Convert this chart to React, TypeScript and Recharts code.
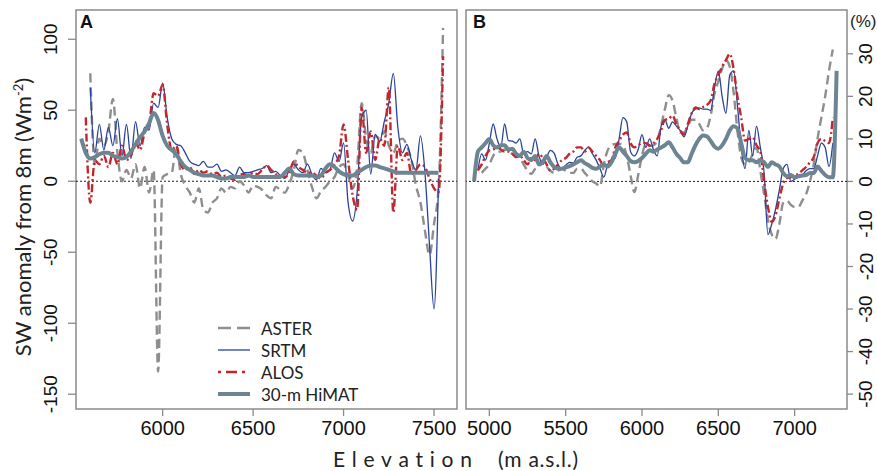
import { LineChart, Line, XAxis, YAxis, ReferenceLine, ReferenceArea, Legend } from 'recharts';

// panel A: absolute anomaly (W m-2) against elevation
const elevA = [
  5550, 5575, 5600, 5625, 5650, 5675, 5700, 5725, 5750, 5775, 5800, 5825, 5850, 5875, 5900, 5925, 5950, 5975,
  6000, 6025, 6050, 6075, 6100, 6125, 6150, 6175, 6200, 6225, 6250, 6275, 6300, 6325, 6350, 6375, 6400, 6425,
  6450, 6475, 6500, 6525, 6550, 6575, 6600, 6625, 6650, 6675, 6700, 6725, 6750, 6775, 6800, 6825, 6850, 6875,
  6900, 6925, 6950, 6975, 7000, 7025, 7050, 7075, 7100, 7125, 7150, 7175, 7200, 7225, 7250, 7275, 7300, 7325,
  7350, 7375, 7400, 7425, 7450, 7475, 7500, 7525, 7550,
];
const asterA = [
  null, null, 76, 12, 30, 25, 35, 58, 20, 0, 8, 2, 12, -5, 10, -8, 8, -134,
  3, 5, 6, 25, 5, -3, -8, -15, -5, -20, -22, -15, -12, -5, -8, -4, -5, 0,
  -3, -8, -3, -4, -6, -10, -12, -4, -6, -8, -2, 8, 22, 20, 8, -4, -12, -7,
  -4, 0, 3, 10, 12, 4, -5, 10, 55, 30, 20, 32, 30, 35, 25, 20, 28, 30,
  25, 15, -3, -15, -35, -52, -30, -5, 108,
];
const srtmA = [
  null, null, 66, 20, 40, 22, 38, 25, 44, 18, 40, 16, 42, 25, 38, 36, 55, 52,
  69, 45, 30, 26, 25, 20, 14, 12, 11, 14, 10, 10, 12, 7, 8, 6, 4, 10,
  6, 6, 7, 8, 9, 11, 6, 7, 4, 2, 8, 12, 8, 6, 12, 5, 1, 9,
  6, 8, 20, 14, 27, -15, -28, -8, 45, 50, 5, 33, 28, 42, 55, 76, 38, 20,
  26, 15, 8, 32, 6, -45, -90, 2, null,
];
const alosA = [
  null, 45, -15, 15, 12, 18, 10, 20, 12, 25, 15, 18, 28, 22, 34, 40, 62, 60,
  68, 40, 22, 25, 12, 8, 10, 5, 8, 6, 7, 5, 6, 3, 4, 2, 1, 5,
  5, 4, 6, 5, 8, 11, 8, 5, 4, 3, 6, 14, 10, 8, 6, 6, 4, 2,
  6, 8, 12, 18, 40, 15, -10, -20, 52, 20, 35, 15, 30, 25, 66, -22, 25, 15,
  20, 5, 8, 12, 10, 2, -5, -8, 88,
];
const himatA = [
  30, 20, 16, 17, 19, 20, 20, 18, 17, 16, 17, 21, 26, 31, 35, 41, 48, 43,
  32, 25, 22, 19, 14, 10, 8, 6, 5, 4, 4, 4, 3, 2, 2, 3, 3, 3,
  3, 4, 3, 3, 3, 3, 3, 3, 3, 6, 9, 5, 4, 4, 4, 4, 3, 4,
  9, 12, 10, 7, 5, 4, 4, 6, 8, 10, 11, 11, 10, 9, 8, 7, 6, 6,
  6, 6, 6, 6, 6, 6, 6, 6, null,
];

// panel B: relative anomaly (%) against elevation
const elevB = [
  4900, 4925, 4950, 4975, 5000, 5025, 5050, 5075, 5100, 5125, 5150, 5175, 5200, 5225, 5250, 5275, 5300, 5325,
  5350, 5375, 5400, 5425, 5450, 5475, 5500, 5525, 5550, 5575, 5600, 5625, 5650, 5675, 5700, 5725, 5750, 5775,
  5800, 5825, 5850, 5875, 5900, 5925, 5950, 5975, 6000, 6025, 6050, 6075, 6100, 6125, 6150, 6175, 6200, 6225,
  6250, 6275, 6300, 6325, 6350, 6375, 6400, 6425, 6450, 6475, 6500, 6525, 6550, 6575, 6600, 6625, 6650, 6675,
  6700, 6725, 6750, 6775, 6800, 6825, 6850, 6875, 6900, 6925, 6950, 6975, 7000, 7025, 7050, 7075, 7100, 7125,
  7150, 7175, 7200, 7225, 7250, 7275,
];
const asterB = [
  null, null, 2, 3, 4, 6, 7, 7, 7.5, 7, 6.5, 6, 5.5, 4, 2.5, 1.8, 3, 4,
  5, 3.5, 2.5, 2, 2.5, 3, 2.5, 2, 2, 3, 3, 2, 1, 0, -0.5, -1.2, 4, 7.3,
  8.5, 8.8, 8.8, 8.5, 6, 1.5, -2.5, 1.5, 6, 8.8, 8.3, 8.5, 9.6, 13, 17, 20.3, 19, 15,
  11.5, 11.5, 13, 14.5, 14.5, 13.5, 12, 12.5, 15.5, 20.6, 23.5, 26.5, 28.5, 27, 21, 12, 5.7, 4,
  4.5, 6.5, 8, 2.5, -3, -9, -12.5, -13.5, -10, -5, -4.5, -5.5, -6, -6, -4.5, -3, 0, 4,
  10, 15, 20, 26, 31, null,
];
const srtmB = [
  null, 2.6, 6.5, 5, 9, 13.5, 10, 8, 13.5, 9.6, 9.5, 9, 10, 6.5, 7, 6.5, 10, 6,
  4, 5.7, 7.3, 6.6, 4, 3, 3.8, 4.5, 4.3, 5.7, 6, 7.3, 8, 6.5, 5, 3, 1, 4,
  5, 5.5, 10, 15, 14, 7, 6, 7.5, 11, 8, 10, 7.5, 6, 13, 14.5, 12.5, 14, 13,
  12, 10.5, 13, 16, 17, 17.3, 17, 17, 16.7, 22, 26, 20, 16, 25, 26, 18, 8, 3,
  12, 6, 13, 8, 2, -12.5, -10, -6.5, -2, 3, 4, 0, 0.5, 1, 1.5, 2.5, 3, 3,
  6, 9, 8, 3.5, 9, null,
];
const alosB = [
  null, 2.6, 4, 6, 7.3, 7.5, 8, 7.5, 7, 7, 6.5, 5.7, 6, 5, 4, 5.5, 5, 6.5,
  5.5, 4, 2.5, 3, 4, 5, 5.5, 6.5, 7, 8, 8, 7, 8, 7, 6, 5, 3.5, 4.5,
  5, 8, 9.5, 11, 11.5, 9, 8, 8.5, 9, 9, 8.5, 9, 10, 12, 14.5, 14.7, 15.5, 13.5,
  12, 11, 13.5, 16, 17.4, 17, 17.5, 18, 19, 23, 25, 27, 28.5, 30, 26.5, 20, 15, 9.6,
  10, 10.4, 8.5, 7, 0, -6, -9.5, -8, -4, -0.5, 0.8, 1, 1.4, 1.8, 2.6, 3.4, 4.5, 5.7,
  9, 10, 9.5, 9, 15, null,
];
const himatB = [
  0, 7, 8, 9, 10, 8.5, 8, 8.5, 8.5, 7.5, 7.7, 6.5, 6, 7, 5.5, 5, 6, 4,
  4.5, 6, 4.5, 3.4, 3, 3, 3.3, 3.6, 4, 4.5, 5, 4.3, 3.8, 3.2, 3, 3.5, 4, 3.5,
  4.5, 6.5, 8, 7, 6, 4.8, 4.5, 4.8, 5.5, 6.5, 7.3, 7, 7.5, 8, 8.5, 9.2, 8, 6.5,
  5.5, 4.5, 4.5, 6.5, 8.5, 10, 10.8, 10.6, 9.5, 8.2, 7.7, 8.5, 10, 12, 13, 12.5, 9, 5.5,
  5, 5, 4.5, 5, 4.5, 3.4, 4.5, 4, 3.5, 2, 1.2, 1.5, 1, 1.2, 1.4, 1.5, 2, 2,
  3.5, 2.5, 1.5, 1, 1, 26,
];

const ticksAx = [6000, 6500, 7000, 7500];
const ticksAy = [-150, -100, -50, 0, 50, 100];
const ticksBx = [5000, 5500, 6000, 6500, 7000];
const ticksBy = [-50, -40, -30, -20, -10, 0, 10, 20, 30];

const SERIES = [
  { key: 'aster', name: 'ASTER', color: '#8e8e8e', width: 2.4, dash: '9 5', legendDash: '13 6' },
  { key: 'srtm', name: 'SRTM', color: '#2a429b', width: 1.3, dash: undefined, legendDash: undefined },
  { key: 'alos', name: 'ALOS', color: '#c1272d', width: 2.4, dash: '8 3 2 3', legendDash: '3 5 11 5' },
  { key: 'himat', name: '30-m HiMAT', color: '#6d8593', width: 4, dash: undefined, legendDash: undefined },
];

const rowsA = elevA.map((e, i) => ({ elev: e, aster: asterA[i], srtm: srtmA[i], alos: alosA[i], himat: himatA[i] }));
const rowsB = elevB.map((e, i) => ({ elev: e, aster: asterB[i], srtm: srtmB[i], alos: alosB[i], himat: himatB[i] }));

const AX_X: [number, number] = [5521, 7627];
const AX_Y: [number, number] = [-160.4, 120.6];
const BX_X: [number, number] = [4847, 7343];
const BX_Y: [number, number] = [-53.5, 40.3];

const BOX = '#8a8a8a';
const TICK_FONT = '"Liberation Sans", Arial, sans-serif';
const TITLE_FONT = 'Lato, "Liberation Sans", sans-serif';
const NO_LIGA = { fontVariantLigatures: 'none' as const };

const BottomTick = ({ x, payload }: any) => (
  <text x={x} y={435} textAnchor="middle" fontSize={20} fontFamily={TICK_FONT} fill="#111">
    {payload.value}
  </text>
);

const LeftTick = ({ y, payload }: any) => (
  <text x={51} y={y} transform={`rotate(-90 51 ${y})`} textAnchor="middle" dominantBaseline="central"
    fontSize={19} fontFamily={TICK_FONT} fill="#111">
    {payload.value}
  </text>
);

// chart B is placed at page x 458, so 866 on the page is 408 here
const RightTick = ({ y, payload }: any) => (
  <text x={408} y={y} transform={`rotate(-90 408 ${y})`} textAnchor="middle" dominantBaseline="central"
    fontSize={19} fontFamily={TICK_FONT} fill="#111">
    {payload.value}
  </text>
);

const LegendBox = () => (
  <svg width={170} height={90}>
    {SERIES.map((s, i) => (
      <g key={s.key}>
        <line x1={6} x2={38} y1={12 + 22 * i} y2={12 + 22 * i} stroke={s.color}
          strokeWidth={s.width} strokeDasharray={s.legendDash} />
        <text x={49} y={12 + 22 * i} dominantBaseline="central" fontSize={17}
          fontFamily={TITLE_FONT} fill="#222" style={NO_LIGA}>{s.name}</text>
      </g>
    ))}
  </svg>
);

function seriesLines(yAxisId: string | number) {
  return SERIES.map((s) => (
    <Line key={s.key} yAxisId={yAxisId} dataKey={s.key} name={s.name} type="monotone"
      stroke={s.color} strokeWidth={s.width} strokeDasharray={s.dash}
      dot={false} activeDot={false} connectNulls={false} isAnimationActive={false} />
  ));
}

export default function App() {
  return (
    <div style={{ position: 'absolute', left: 0, top: 0, width: 877, height: 471, background: '#fff' }}>
      <div style={{ position: 'absolute', left: 0, top: 0 }}>
        <LineChart width={458} height={471} data={rowsA} margin={{ top: 10, right: 1, bottom: 0, left: 0 }}>
          <XAxis dataKey="elev" type="number" domain={AX_X} ticks={ticksAx} allowDataOverflow
            height={62} tickSize={7} axisLine={false} tickLine={{ stroke: BOX, strokeWidth: 1.3 }}
            tick={<BottomTick />} interval={0} />
          <YAxis yAxisId="w" type="number" domain={AX_Y} ticks={ticksAy} allowDataOverflow width={76}
            tickSize={8} axisLine={false} tickLine={{ stroke: BOX, strokeWidth: 1.3 }}
            tick={<LeftTick />} interval={0} />
          <YAxis yAxisId="inner" orientation="right" mirror type="number" domain={AX_Y} ticks={ticksAy}
            allowDataOverflow width={0} tickSize={3} axisLine={false}
            tickLine={{ stroke: BOX, strokeWidth: 1.3 }} tick={false} interval={0} />
          <ReferenceLine yAxisId="w" y={0} stroke="#222" strokeWidth={1} strokeDasharray="2 2" />
          {seriesLines('w')}
          <ReferenceArea yAxisId="w" x1={AX_X[0]} x2={AX_X[1]} y1={AX_Y[0]} y2={AX_Y[1]}
            fill="none" stroke={BOX} strokeWidth={1.5} />
          <Legend layout="vertical" align="center" verticalAlign="middle" content={<LegendBox />}
            wrapperStyle={{ left: 212, top: 316, width: 170, height: 90 }} />
        </LineChart>
      </div>
      <div style={{ position: 'absolute', left: 458, top: 0 }}>
        <LineChart width={419} height={471} data={rowsB} margin={{ top: 10, right: 0, bottom: 0, left: 8 }}>
          <XAxis dataKey="elev" type="number" domain={BX_X} ticks={ticksBx} allowDataOverflow
            height={62} tickSize={7} axisLine={false} tickLine={{ stroke: BOX, strokeWidth: 1.3 }}
            tick={<BottomTick />} interval={0} />
          <YAxis yAxisId="pct" orientation="right" type="number" domain={BX_Y} ticks={ticksBy}
            allowDataOverflow width={30} tickSize={6} axisLine={false}
            tickLine={{ stroke: BOX, strokeWidth: 1.3 }} tick={<RightTick />} interval={0} />
          <ReferenceLine yAxisId="pct" y={0} stroke="#222" strokeWidth={1} strokeDasharray="2 2" />
          {seriesLines('pct')}
          <ReferenceArea yAxisId="pct" x1={BX_X[0]} x2={BX_X[1]} y1={BX_Y[0]} y2={BX_Y[1]}
            fill="none" stroke={BOX} strokeWidth={1.5} />
        </LineChart>
      </div>
      <svg width={877} height={471} style={{ position: 'absolute', left: 0, top: 0, pointerEvents: 'none' }}>
        <text x={31} y={217} transform="rotate(-90 31 217)" textAnchor="middle" fontSize={22}
          fontFamily={TITLE_FONT} fill="#222" style={NO_LIGA}>
          SW anomaly from 8m (Wm<tspan dy={-8} fontSize={13}>-2</tspan><tspan dy={8}>)</tspan>
        </text>
        <text x={333} y={467} fontSize={21} fontFamily={TITLE_FONT} fill="#222" textLength={139}
          lengthAdjust="spacing" style={NO_LIGA}>Elevation</text>
        <text x={498} y={467} fontSize={21} fontFamily={TITLE_FONT} fill="#222" textLength={80}
          lengthAdjust="spacing" style={NO_LIGA}>(m a.s.l.)</text>
        <text x={80} y={28} fontSize={18} fontWeight="bold" fontFamily={TICK_FONT} fill="#111">A</text>
        <text x={473} y={28} fontSize={18} fontWeight="bold" fontFamily={TICK_FONT} fill="#111">B</text>
        <text x={850} y={27} fontSize={17} fontFamily={TICK_FONT} fill="#222">(%)</text>
      </svg>
    </div>
  );
}
